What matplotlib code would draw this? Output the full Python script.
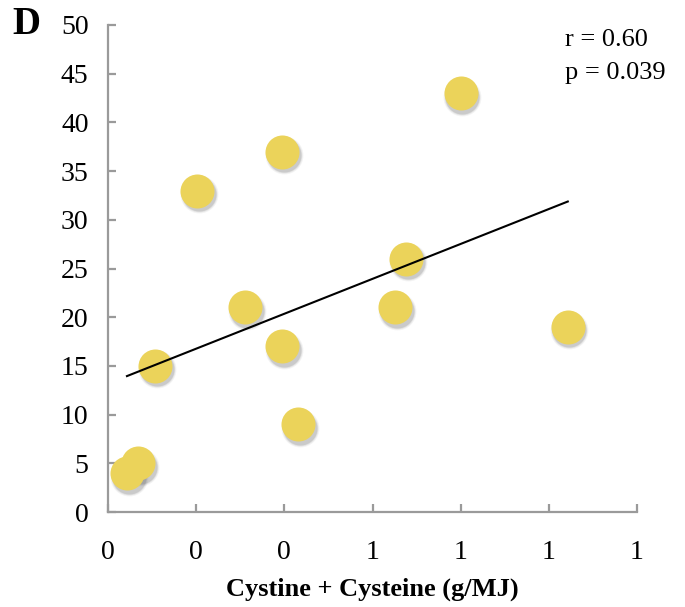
import numpy as np
import matplotlib
matplotlib.use("Agg")
import matplotlib.pyplot as plt
import matplotlib.transforms as mtransforms
from matplotlib.ticker import FuncFormatter

# Cystine + cysteine intake vs. outcome
x_vals = [0.043, 0.068, 0.107, 0.202, 0.311, 0.395, 0.395, 0.431, 0.651, 0.676, 0.800, 1.043]
y_vals = [4, 5, 15, 33, 21, 37, 17, 9, 21, 26, 43, 19]
x_ticks = [0.0, 0.2, 0.4, 0.6, 0.8, 1.0, 1.2]
y_ticks = [0, 5, 10, 15, 20, 25, 30, 35, 40, 45, 50]
r_text = "r = 0.60"
p_text = "p = 0.039"

plt.rcParams["font.family"] = ["Liberation Serif", "DejaVu Serif"]

fig = plt.figure(figsize=(6.85, 6.07), dpi=100)
ax = fig.add_axes([108 / 685, 95 / 607, 529 / 685, 487 / 607])

x = np.array(x_vals)
y = np.array(y_vals)

# soft drop shadow under each marker
shadow = mtransforms.offset_copy(ax.transData, fig=fig, x=1.2, y=-2.5, units="points")
for s, a in [(740, 0.07), (660, 0.11), (600, 0.16)]:
    ax.scatter(x, y, s=s, color="#555555", alpha=a, linewidths=0,
               transform=shadow, zorder=2, clip_on=False)
ax.scatter(x, y, s=600, color="#EBD35A", linewidths=0, zorder=3, clip_on=False)

# least-squares trend line
slope, intercept = np.polyfit(x, y, 1)
xl = np.array([x.min(), x.max()])
ax.plot(xl, slope * xl + intercept, color="black", lw=1.5, zorder=4)

ax.set_xlim(0, 1.2)
ax.set_ylim(0, 50)
ax.set_xticks(x_ticks)
ax.set_yticks(y_ticks)
ax.xaxis.set_major_formatter(FuncFormatter(lambda v, pos: f"{int(np.floor(v + 0.5 + 1e-9))}"))

for side in ["top", "right"]:
    ax.spines[side].set_visible(False)
for side in ["left", "bottom"]:
    ax.spines[side].set_color("#9a9a9a")
    ax.spines[side].set_linewidth(1.6)
ax.tick_params(axis="both", direction="in", length=6, width=1.6, color="#9a9a9a",
               labelsize=20, labelcolor="black")
ax.tick_params(axis="x", pad=20)
ax.tick_params(axis="y", pad=14)

ax.set_xlabel("Cystine + Cysteine (g/MJ)", fontsize=19, fontweight="bold", labelpad=9)

fig.text(12 / 685, 1 - 24 / 607, "D", fontsize=28, fontweight="bold", ha="left", va="center")
fig.text(565 / 685, 1 - 40 / 607, r_text, fontsize=19, ha="left", va="center")
fig.text(565 / 685, 1 - 73 / 607, p_text, fontsize=19, ha="left", va="center")

fig.savefig("out.png", dpi=100, facecolor="white")
